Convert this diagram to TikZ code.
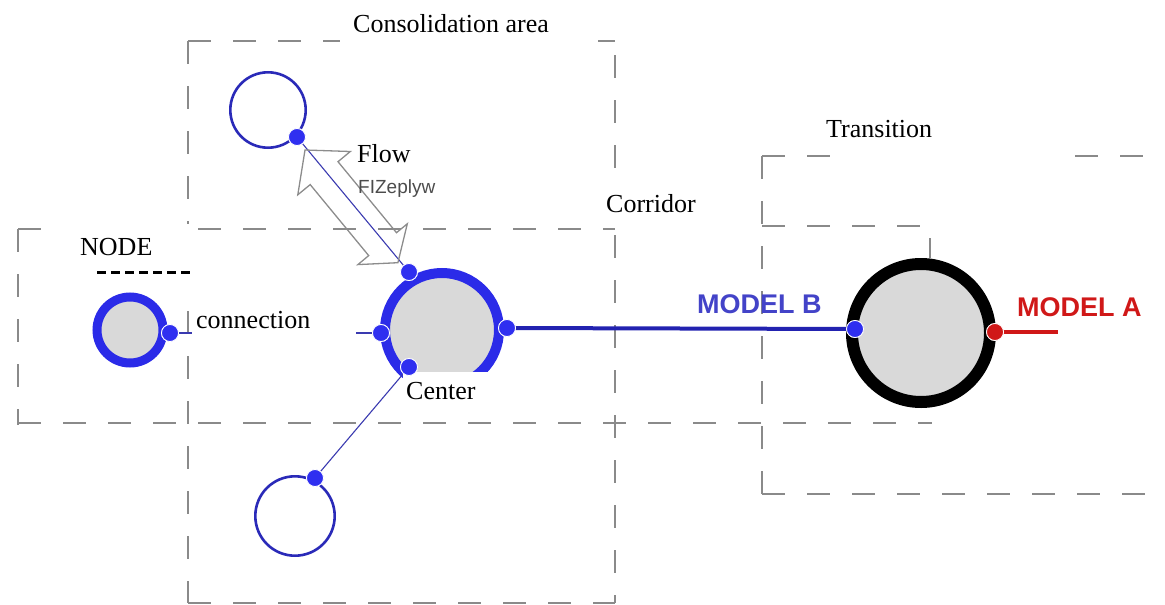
\documentclass[tikz,border=0pt]{standalone}
\usepackage{fontspec}
\setmainfont{Liberation Serif}
\newfontfamily\labelsans{Liberation Sans}
\definecolor{zonegray}{HTML}{8A8A8A}
\definecolor{thinring}{HTML}{2A2AB8}
\definecolor{thickring}{HTML}{2B2BE8}
\definecolor{portblue}{HTML}{2F2FF0}
\definecolor{linkblue}{HTML}{3A3AB0}
\definecolor{busblue}{HTML}{2222B0}
\definecolor{modelbtext}{HTML}{4343C8}
\definecolor{modelred}{HTML}{D01818}
\definecolor{hubfill}{HTML}{D9D9D9}
\definecolor{arrowgray}{HTML}{8C8C8C}
\tikzset{
  zone/.style={draw=zonegray, line width=1.6pt, dash pattern=on 23pt off 22pt},
  loopring/.style={circle, draw=thinring, line width=2.6pt, inner sep=0pt},
  hubring/.style={circle, draw=thickring, fill=hubfill, inner sep=0pt},
  port/.style={circle, fill=portblue, draw=white, line width=0.8pt, minimum size=17pt, inner sep=0pt},
  redport/.style={port, fill=modelred},
  link/.style={draw=linkblue, line width=1.1pt},
  lbl/.style={font=\fontsize{26}{30}\selectfont, inner sep=0pt, anchor=base west},
  modellbl/.style={font=\labelsans\bfseries\fontsize{27}{32}\selectfont, inner sep=0pt, anchor=base west},
  blank/.style={fill=white}
}
\begin{document}
\begin{tikzpicture}[x=1pt, y=-1pt]
\useasboundingbox (0,0) rectangle (1165,605);

% dashed zone outlines
\draw[zone] (188,41) -- (340,41);
\draw[zone] (598,41) -- (615,41);
\draw[zone] (188,41) -- (188,603);
\draw[zone] (615,55) -- (615,603);
\draw[zone] (18,229) -- (615,229);
\draw[zone] (18,229) -- (18,425);
\draw[zone] (18,423) -- (932,423);
\draw[zone] (188,603) -- (615,603);
\draw[zone] (762,156) -- (840,156);
\draw[zone] (1075,156) -- (1148,156);
\draw[zone] (762,156) -- (762,494);
\draw[zone] (762,494) -- (1150,494);
\draw[zone] (762,226) -- (930,226);
\draw[zone] (930,238) -- (930,258);

% blank area behind the NODE label
\fill[blank] (62,224) rectangle (194,292);
\draw[black, line width=3pt, dash pattern=on 9pt off 5pt] (97,272) -- (190,272);

% rings and hubs
\node[loopring, minimum size=75.4pt] (topring) at (268,110) {};
\node[loopring, minimum size=79.4pt] (botring) at (295,516) {};
\node[hubring, line width=9pt, minimum size=66pt] (nodehub) at (130,330) {};
\node[hubring, line width=10pt, minimum size=114pt] (centerhub) at (442,330) {};
\node[circle, draw=black, fill=hubfill, line width=12pt, minimum size=138pt, inner sep=0pt] (transhub) at (921,333) {};

% ports
\node[port] (p1) at (297,137) {};
\node[port] (p2) at (170,333) {};
\node[port] (p3) at (409,272) {};
\node[port] (p4) at (381,333) {};
\node[port] (p5) at (507,328) {};
\node[port] (p6) at (409,367) {};
\node[port] (p7) at (315,478) {};
\node[port] (p8) at (855,329) {};
\node[redport] (p9) at (995,332) {};
\coordinate (redend) at (1058,332);

% connectors
\draw[link] (p1) -- (p3);
\draw[link] (p2) -- (p4);
\draw[link] (p6) -- (p7);
\draw[busblue, line width=4pt] (p5) -- (p8);
\draw[modelred, line width=4.5pt] (p9) -- (redend);

% label backgrounds
\fill[blank] (192,300) rectangle (356,348);
\fill[blank] (403,372) rectangle (492,410);
\fill[blank] (602,186) rectangle (702,220);

% ports redrawn above the connectors
\node[port] at (p1) {};
\node[port] at (p2) {};
\node[port] at (p3) {};
\node[port] at (p4) {};
\node[port] at (p5) {};
\node[port] at (p6) {};
\node[port] at (p7) {};
\node[port] at (p8) {};
\node[redport] at (p9) {};

% hollow double arrow for the flow
\draw[arrowgray, line width=1.3pt, line join=miter]
  (305,150) -- (350.3,151.5) -- (338,161.7) -- (396.5,232.7) -- (407.3,223.8)
  -- (397.9,262.7) -- (357.9,264.6) -- (368.7,255.6) -- (310.2,184.6)
  -- (297.8,194.8) -- cycle;

% labels
\node[lbl] (consol) at (353,32) {Consolidation area};
\node[lbl] (flow) at (357,162) {Flow};
\node[inner sep=0pt, anchor=base west, font=\labelsans\fontsize{19}{22}\selectfont, text=black!70] (flowsub) at (358,193) {FIZeplyw};
\node[lbl] (trans) at (826,137) {Transition};
\node[lbl] (corr) at (606,212) {Corridor};
\node[lbl] (nodelbl) at (80,255) {NODE};
\node[lbl] (conn) at (196,328) {connection};
\node[lbl] (center) at (406,399) {Center};
\node[modellbl, text=modelbtext] (modelb) at (697,313) {MODEL B};
\node[modellbl, text=modelred] (modela) at (1017,316) {MODEL A};
\end{tikzpicture}
\end{document}
